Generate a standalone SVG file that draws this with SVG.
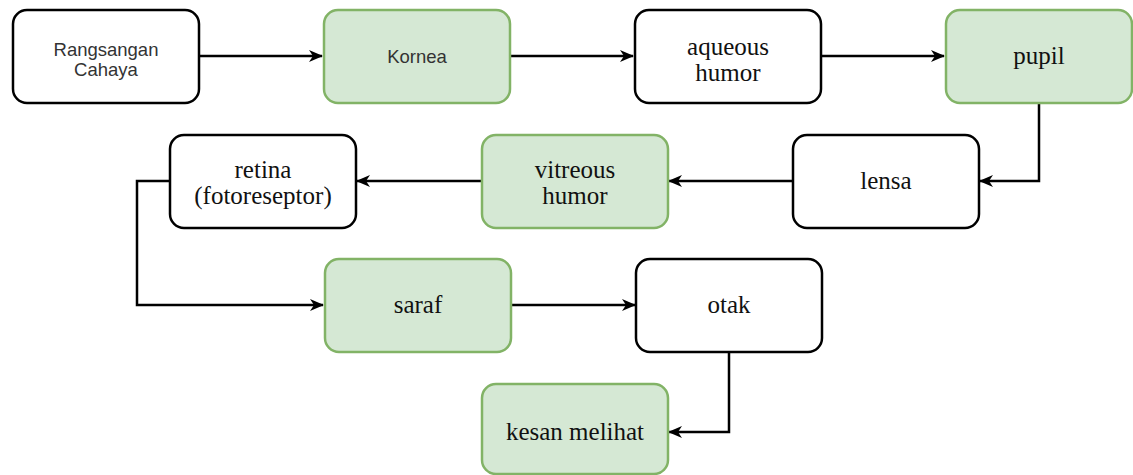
<svg xmlns="http://www.w3.org/2000/svg" width="1133" height="475" viewBox="0 0 1133 475">
<defs>
<style>
.w{fill:#ffffff;stroke:#000000;stroke-width:2.5}
.g{fill:#d5e8d4;stroke:#82b366;stroke-width:2.5}
.s{font-family:"Liberation Sans",Arial,sans-serif;font-size:18.5px;fill:#333333;text-anchor:middle}
.t{font-family:"Liberation Serif","Times New Roman",serif;font-size:25px;fill:#111111;text-anchor:middle}
.c{fill:none;stroke:#000000;stroke-width:2.5}
</style>
<marker id="ah" viewBox="0 0 14 12" refX="13" refY="6" markerWidth="14" markerHeight="12" markerUnits="userSpaceOnUse" orient="auto">
<path d="M0,0 L14,6 L0,12 L4,6 Z" fill="#000000"/>
</marker>
</defs>
<rect width="1133" height="475" fill="#ffffff"/>
<g id="connectors">
<path class="c" d="M199,56 H322" marker-end="url(#ah)"/>
<path class="c" d="M510,56 H633" marker-end="url(#ah)"/>
<path class="c" d="M821,56 H944" marker-end="url(#ah)"/>
<path class="c" d="M1039,103 V181 H980" marker-end="url(#ah)"/>
<path class="c" d="M792,181 H669" marker-end="url(#ah)"/>
<path class="c" d="M481,181 H357" marker-end="url(#ah)"/>
<path class="c" d="M169,181 H137 V305 H323" marker-end="url(#ah)"/>
<path class="c" d="M511,305 H635" marker-end="url(#ah)"/>
<path class="c" d="M729,352 V432 H669" marker-end="url(#ah)"/>
</g>
<g id="n1"><rect class="w" x="13" y="10" width="186" height="93" rx="14"/><text class="s" x="106" y="56">Rangsangan</text><text class="s" x="106" y="76">Cahaya</text></g>
<g id="n2"><rect class="g" x="324" y="10" width="186" height="93" rx="14"/><text class="s" x="417" y="63">Kornea</text></g>
<g id="n3"><rect class="w" x="635" y="10" width="186" height="93" rx="14"/><text class="t" x="728" y="55">aqueous</text><text class="t" x="728" y="81">humor</text></g>
<g id="n4"><rect class="g" x="946" y="10" width="186" height="93" rx="14"/><text class="t" x="1039" y="64">pupil</text></g>
<g id="n5"><rect class="w" x="793" y="135" width="186" height="93" rx="14"/><text class="t" x="886" y="189">lensa</text></g>
<g id="n6"><rect class="g" x="482" y="135" width="186" height="93" rx="14"/><text class="t" x="575" y="178">vitreous</text><text class="t" x="575" y="204">humor</text></g>
<g id="n7"><rect class="w" x="170" y="135" width="186" height="93" rx="14"/><text class="t" x="263" y="178">retina</text><text class="t" x="263" y="204">(fotoreseptor)</text></g>
<g id="n8"><rect class="g" x="325" y="259" width="186" height="93" rx="14"/><text class="t" x="418" y="313">saraf</text></g>
<g id="n9"><rect class="w" x="636" y="259" width="186" height="93" rx="14"/><text class="t" x="729" y="313">otak</text></g>
<g id="n10"><rect class="g" x="482" y="384" width="186" height="90" rx="14"/><text class="t" x="575" y="440">kesan melihat</text></g>
</svg>
